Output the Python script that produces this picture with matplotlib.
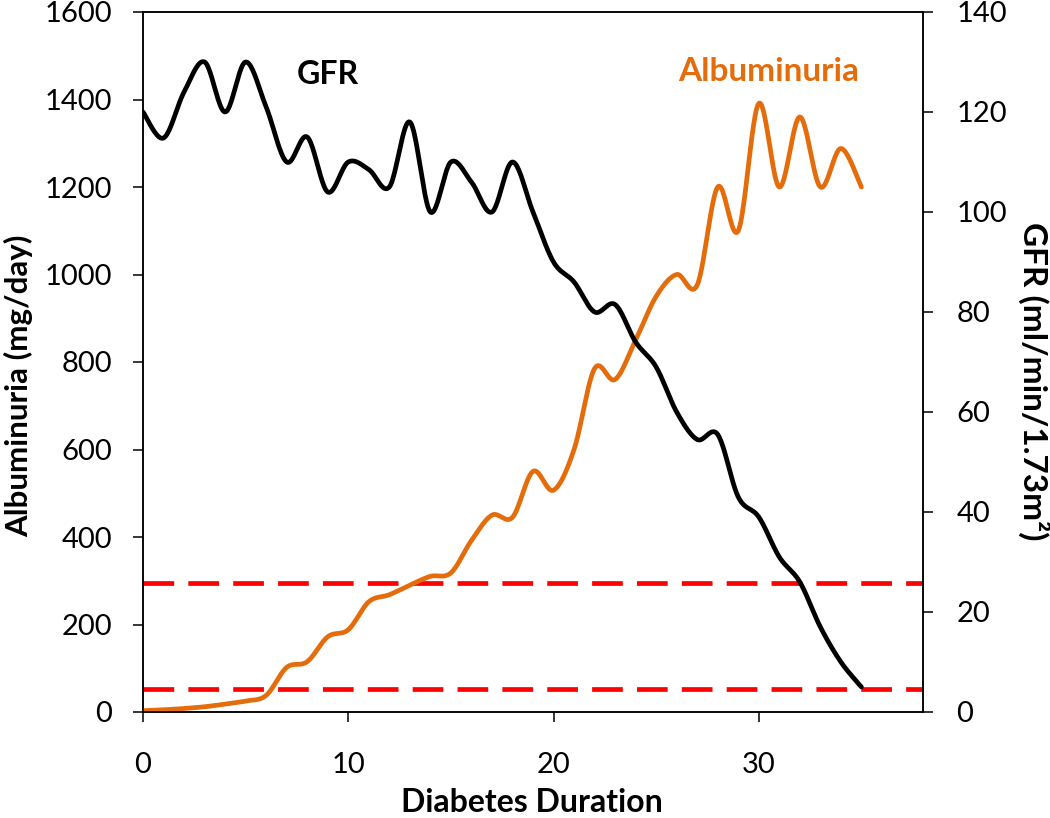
import numpy as np
import matplotlib
matplotlib.use("Agg")
import matplotlib.pyplot as plt

plt.rcParams["font.family"] = ["Lato", "DejaVu Sans"]

# values read at each whole year of diabetes duration
years = list(range(36))
gfr = [120, 114.8, 124, 130, 120, 130, 121, 110, 115, 104, 110, 108.5,
       105, 118, 100, 110, 106, 100, 110, 100, 90, 86, 80, 81.5, 74, 69,
       60, 54.5, 55.5, 43, 39, 31, 26, 17, 10, 5]
albuminuria = [3, 5, 8, 12, 18, 25, 38, 102, 115, 172, 188, 252, 268, 290,
               310, 318, 392, 450, 445, 550, 507, 600, 785, 760, 850, 950,
               1000, 976, 1200, 1100, 1391, 1200, 1360, 1200, 1288, 1200]
thresholds = [295, 53]

ORANGE = "#E46C0A"


def smooth(x, y, n=24):
    # excel style smoothed line: bezier with catmull-rom control points
    pts = np.column_stack([x, y]).astype(float)
    P = np.vstack([pts[0], pts, pts[-1]])
    t = np.linspace(0, 1, n)[:, None]
    segs = []
    for i in range(1, len(P) - 2):
        p0, p1, p2, p3 = P[i - 1], P[i], P[i + 1], P[i + 2]
        c1 = p1 + (p2 - p0) / 6
        c2 = p2 - (p3 - p1) / 6
        segs.append((1 - t) ** 3 * p1 + 3 * (1 - t) ** 2 * t * c1
                    + 3 * (1 - t) * t ** 2 * c2 + t ** 3 * p2)
    s = np.vstack(segs)
    return s[:, 0], s[:, 1]


fig = plt.figure(figsize=(10.5, 8.18), dpi=100)
W, H = 1050, 818
ax = fig.add_axes([143 / W, 1 - 712 / H, (923 - 143) / W, 700 / H])
ax2 = ax.twinx()

for a in (ax, ax2):
    for sp in a.spines.values():
        sp.set_linewidth(1.1)
    a.tick_params(labelsize=21, length=7, width=1.1, direction="out")

ax.set_xlim(0, 38)
ax.set_ylim(0, 1600)
ax2.set_ylim(0, 140)
ax.set_xticks([0, 10, 20, 30])
ax.set_yticks(range(0, 1601, 200))
ax2.set_yticks(range(0, 141, 20))
ax.tick_params(axis="x", pad=22)
ax.tick_params(axis="y", pad=15)
ax2.tick_params(axis="y", pad=17)

for v in thresholds:
    ax.axhline(v, color="#FF0000", lw=3.4, dashes=(6.5, 3), zorder=2)

xa, ya = smooth(years, albuminuria)
ax.plot(xa, ya, color=ORANGE, lw=3.4, solid_capstyle="round", zorder=3)
xg, yg = smooth(years, gfr)
ax2.plot(xg, yg, color="black", lw=3.4, solid_capstyle="round", zorder=3)

ax.text(9.0, 1456, "GFR", fontsize=23, fontweight="bold", ha="center", va="center")
ax.text(30.5, 1463, "Albuminuria", fontsize=24, fontweight="bold",
        color=ORANGE, ha="center", va="center")

ax.set_xlabel("Diabetes Duration", fontsize=23, fontweight="bold")
ax.xaxis.set_label_coords(0.499, -0.108)
ax.set_ylabel("Albuminuria (mg/day)", fontsize=22.5, fontweight="bold")
ax.yaxis.set_label_coords(-0.141, 0.466)
ax2.set_ylabel("GFR (ml/min/1.73m²)", fontsize=24, fontweight="bold",
               rotation=270, va="bottom")
ax2.yaxis.set_label_coords(1.122, 0.472)

fig.savefig("out.png", dpi=100)
